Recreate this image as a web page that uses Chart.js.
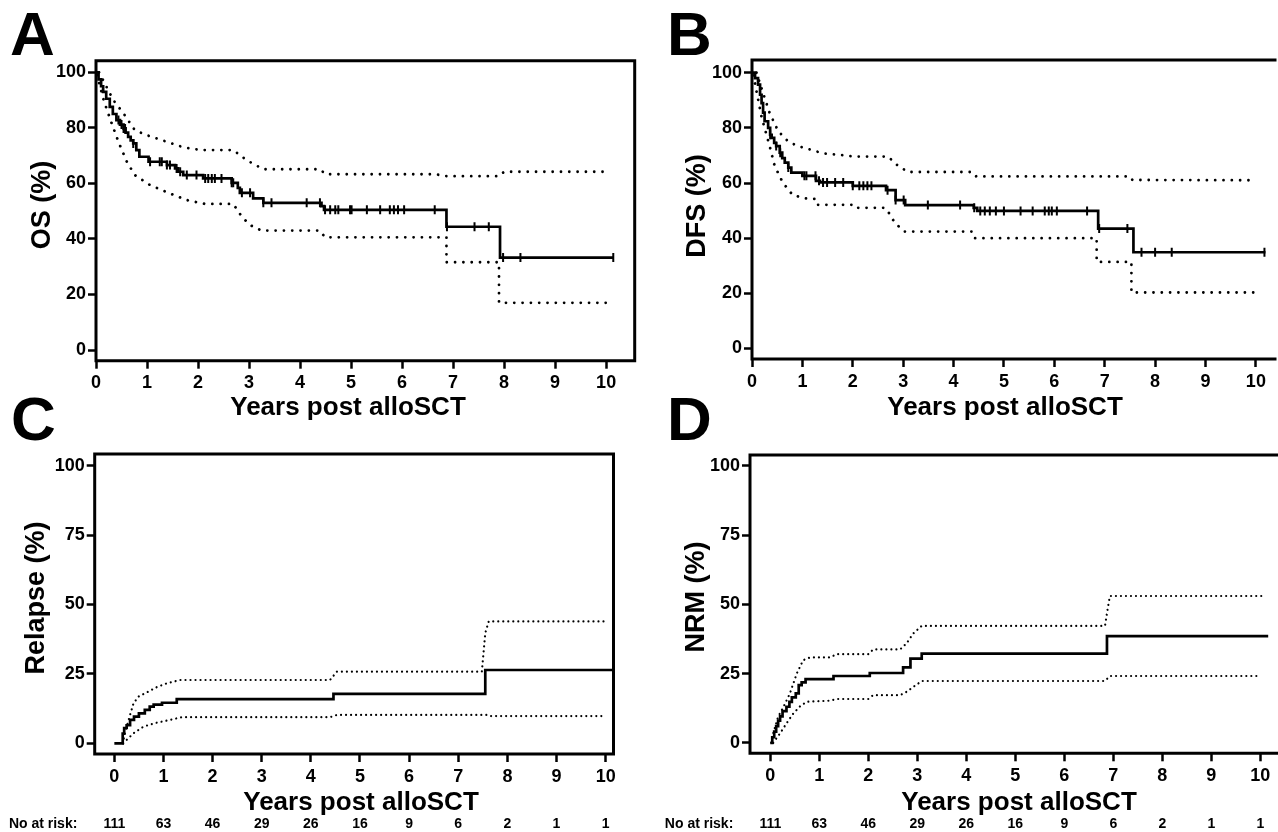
<!DOCTYPE html>
<html><head><meta charset="utf-8">
<script src="https://cdn.jsdelivr.net/npm/chart.js@4.4.0/dist/chart.umd.min.js"></script>
<style>
html,body{margin:0;padding:0;background:#fff;width:1278px;height:832px;overflow:hidden;}
canvas{position:absolute;left:0;top:0;}
</style></head><body>
<canvas id="cA" width="1278" height="832"></canvas>
<canvas id="cB" width="1278" height="832"></canvas>
<canvas id="cC" width="1278" height="832"></canvas>
<canvas id="cD" width="1278" height="832"></canvas>
<script>
// ---------- shared tick labels ----------
const xTickYears = [0,1,2,3,4,5,6,7,8,9,10];
const survivalTicks = [0,20,40,60,80,100];
const incidenceTicks = [0,25,50,75,100];
const atRiskCounts = [111,63,46,29,26,16,9,6,2,1,1];

// ---------- Panel A: OS ----------
const osTime  = [0,0.05,0.1,0.14,0.2,0.27,0.33,0.4,0.47,0.54,0.58,0.63,0.68,0.73,0.79,0.85,1.03,1.39,1.55,1.61,1.71,2.1,2.66,2.78,2.82,3.08,3.28,4.42,4.47,6.87,7.92,10.15];
const osValue = [100,97.5,95,93,90.5,87.6,85,82.8,81.2,79.8,78.3,76.8,75.5,74.4,72,69.6,67.8,66.6,65.4,64.2,63,61.8,60.2,58.4,56.6,54.6,53,51.8,50.5,44.4,33.3,33.3];
const osCensorTime = [0.44,0.5,0.54,0.57,0.73,1.06,1.25,1.29,1.39,1.45,1.58,1.65,1.78,1.97,2.14,2.2,2.27,2.33,2.46,2.66,2.69,2.86,3.02,3.28,3.44,4.13,4.39,4.49,4.59,4.69,4.75,4.98,5.01,5.31,5.57,5.76,5.84,5.92,6.04,6.64,6.88,7.42,7.7,7.98,8.32,10.14];
const osUpperTime  = [0.06,0.2,0.34,0.54,0.76,0.99,1.39,1.71,2.07,2.69,2.95,3.28,4.39,4.5,6.65,6.88,7.9,8.0,10.0];
const osUpperValue = [100,95,90,85.2,79.2,77.4,75,73,72,72,68.4,65.1,65.1,63.3,63.3,62.6,62.6,64.2,64.2];
const osLowerTime  = [0.02,0.15,0.3,0.45,0.6,0.76,1.06,1.45,1.78,2.14,2.69,2.86,3.02,3.25,4.39,4.49,6.87,6.87,7.9,7.9,10.0];
const osLowerValue = [99,90,82,74.5,68,63,59.4,56.4,54,52.6,52.6,48,45,43,43,40.6,40.6,31.6,31.6,17,17];

// ---------- Panel B: DFS ----------
const dfsTime  = [0,0.06,0.12,0.16,0.19,0.22,0.25,0.32,0.36,0.39,0.44,0.48,0.55,0.6,0.65,0.72,0.78,1.0,1.27,1.35,2.0,2.66,2.85,3.04,4.4,4.47,6.87,7.57,10.19];
const dfsValue = [100,98,95.7,92,89,85.5,82.4,80,77.5,76.4,74.5,73.4,71,69,67.4,65.6,63.8,62.6,60.8,60.2,59,57.4,53.8,52,51,49.9,43.5,34.9,34.9];
const dfsCensorTime = [0.36,0.48,0.56,0.72,1.04,1.08,1.26,1.33,1.41,1.49,1.65,1.81,2.0,2.13,2.21,2.29,2.37,2.69,2.85,3.01,3.49,4.13,4.41,4.53,4.62,4.72,4.84,5.0,5.33,5.57,5.81,5.89,5.95,6.05,6.65,6.89,7.45,7.73,8.0,8.33,10.17];
const dfsUpperTime  = [0.09,0.22,0.35,0.52,0.71,0.88,1.14,1.4,2.05,2.7,2.9,3.1,4.37,4.45,7.5,7.55,10.0];
const dfsUpperValue = [100,92.6,85.4,78.8,75.2,73.6,72.2,70.8,69.6,69.6,66.2,64,64,62.4,62.4,61.1,61.0];
const dfsLowerTime  = [0.02,0.06,0.19,0.35,0.45,0.61,0.81,1.07,1.27,1.3,2.05,2.1,2.64,2.7,2.84,3.03,4.37,4.42,6.84,6.84,7.53,7.53,10.0];
const dfsLowerValue = [99,96,83.9,73.4,66.2,60.2,55.6,54.4,54.2,52.1,52.1,51,51,49.7,45.4,42.4,42.4,40,40,31.4,31.4,20.3,20.3];

// ---------- Panel C: Relapse ----------
const relTime  = [0,0.17,0.2,0.25,0.32,0.4,0.5,0.62,0.72,0.8,0.97,1.27,4.46,7.55,10.14];
const relValue = [0,3.5,5.5,6.5,8.4,9.6,10.8,12,13.2,13.9,14.6,15.9,17.8,26.4,26.4];
const relUpperTime  = [0.17,0.22,0.29,0.39,0.49,0.69,0.86,1.07,1.34,4.39,4.53,7.48,7.55,7.62,10.0];
const relUpperValue = [0,4,8.4,14.4,16.8,18.6,20.2,21.6,22.8,22.8,25.8,25.8,39.7,43.9,43.9];
const relLowerTime  = [0.18,0.25,0.39,0.59,0.86,1.13,1.37,4.39,4.53,7.6,7.65,10.0];
const relLowerValue = [0,1.2,3.6,6,7.4,8.4,9.4,9.4,10.2,10.2,9.8,9.8];

// ---------- Panel D: NRM ----------
const nrmTime  = [0,0.04,0.08,0.12,0.16,0.2,0.25,0.33,0.39,0.44,0.52,0.58,0.64,0.72,1.29,2.03,2.71,2.86,3.09,6.87,10.16];
const nrmValue = [0,2,4,6,8,9.5,11.4,13,14.8,16.4,17.8,20.8,21.8,23,24.1,25.2,27.2,30.4,32.2,38.5,38.5];
const nrmUpperTime  = [0.02,0.06,0.16,0.27,0.4,0.54,0.67,0.81,1.22,1.35,2.0,2.1,2.65,2.78,2.92,3.09,6.83,6.88,6.93,10.05];
const nrmUpperValue = [0,3.4,9.4,13,17.8,25,29.8,30.8,30.8,32,32,33.7,33.7,35.9,39.5,42.2,42.2,47.9,53,53];
const nrmLowerTime  = [0.06,0.2,0.33,0.47,0.61,0.74,1.22,1.35,2.0,2.1,2.65,2.78,2.92,3.09,6.83,6.93,10.0];
const nrmLowerValue = [0,3.4,7,10.6,13.2,14.8,15.2,15.8,15.8,17.2,17.2,18.4,20.2,22.3,22.3,24.1,24.1];

// ---------- helpers ----------
const FONT = '"Liberation Sans", Arial, Helvetica, sans-serif';
function pts(ts, vs){ return ts.map((t,i)=>({x:t,y:vs[i]})); }
function stepAt(ts, vs, t){ let v = vs[0]; for (let i=0;i<ts.length;i++){ if (ts[i] <= t) v = vs[i]; } return v; }

const deco = {
  id: 'deco',
  afterDraw(chart, args, o) {
    const c = chart.ctx, a = chart.chartArea;
    c.save();
    c.strokeStyle = '#000'; c.lineWidth = 3; c.lineJoin = 'miter'; c.lineCap = 'butt';
    c.beginPath();
    if (o.openRight) {
      c.moveTo(a.right + 5, a.top); c.lineTo(a.left, a.top); c.lineTo(a.left, a.bottom); c.lineTo(a.right + 5, a.bottom);
    } else {
      c.rect(a.left, a.top, a.right - a.left, a.bottom - a.top);
    }
    c.stroke();
    c.fillStyle = '#000';
    c.textBaseline = 'alphabetic';
    c.font = 'bold 62px ' + FONT; c.textAlign = 'left';
    c.fillText(o.letter, o.letterX, o.letterY);
    c.font = 'bold 26px ' + FONT; c.textAlign = 'center';
    c.fillText(o.xTitle, o.xTitleX, o.xTitleY);
    c.save();
    c.translate(o.yTitleX, o.yTitleY); c.rotate(-Math.PI/2);
    c.font = 'bold 27px ' + FONT; c.textAlign = 'center';
    c.fillText(o.yTitle, 0, 0);
    c.restore();
    if (o.risk) {
      const xs = chart.scales.x;
      c.font = 'bold 14px ' + FONT;
      c.textAlign = 'right';
      c.fillText('No at risk:', xs.getPixelForValue(0) - 37, o.riskY);
      c.textAlign = 'center';
      o.risk.forEach((n,i) => c.fillText(String(n), xs.getPixelForValue(xTickYears[i]), o.riskY));
    }
    c.restore();
  }
};

function build(id, p) {
  const dotted = (ts, vs) => ({
    data: pts(ts, vs), borderColor:'#000', borderWidth:p.dotW, borderDash:[0.01, p.dotGap],
    borderCapStyle:'round', pointRadius:0, fill:false, tension:0
  });
  const datasets = [
    dotted(p.upT, p.upV),
    dotted(p.loT, p.loV),
    { data: pts(p.t, p.v), borderColor:'#000', borderWidth:2.7, stepped:true, pointRadius:0,
      fill:false, borderJoinStyle:'miter', borderCapStyle:'butt' }
  ];
  if (p.cT) {
    datasets.push({
      data: p.cT.map(t => ({x:t, y:stepAt(p.t, p.v, t)})), showLine:false,
      pointStyle:'line', pointRadius:4.5, pointRotation:90, pointBorderWidth:2,
      pointBorderColor:'#000', pointBackgroundColor:'#000'
    });
  }
  const tickFont = {family:FONT, size:18, weight:'bold'};
  const grid = {display:true, drawOnChartArea:false, drawTicks:true, tickLength:8, tickWidth:2.5, tickColor:'#000'};
  new Chart(document.getElementById(id), {
    type:'line',
    data:{datasets},
    plugins:[deco],
    options:{
      responsive:false, animation:false, devicePixelRatio:1, events:[],
      layout:{padding:p.pad},
      plugins:{legend:{display:false}, tooltip:{enabled:false}, deco:p.deco},
      scales:{
        x:{type:'linear', bounds:'data', min:p.xMin, max:p.xMax,
           afterBuildTicks:s => { s.ticks = xTickYears.map(v => ({value:v})); },
           afterFit:s => { s.height = 40; },
           grid, border:{display:false},
           ticks:{color:'#000', font:tickFont, padding:4, autoSkip:false, maxRotation:0, minRotation:0}},
        y:{type:'linear', bounds:'data', min:p.yMin, max:p.yMax,
           afterBuildTicks:s => { s.ticks = p.yTicks.map(v => ({value:v})); },
           afterFit:s => { s.width = 70; },
           grid, border:{display:false},
           ticks:{color:'#000', font:tickFont, padding:2}}
      }
    }
  });
}

build('cA', {
  t:osTime, v:osValue, cT:osCensorTime, upT:osUpperTime, upV:osUpperValue, loT:osLowerTime, loV:osLowerValue,
  dotW:2.8, dotGap:8.3, xMin:0, xMax:10.56, yMin:-3.85, yMax:104.2, yTicks:survivalTicks,
  pad:{left:26, top:60.7, right:643.3, bottom:431.3},
  deco:{letter:'A', letterX:10, letterY:55, xTitle:'Years post alloSCT', xTitleX:348, xTitleY:415,
        yTitle:'OS (%)', yTitleX:50, yTitleY:205, openRight:false}
});
build('cB', {
  t:dfsTime, v:dfsValue, cT:dfsCensorTime, upT:dfsUpperTime, upV:dfsUpperValue, loT:dfsLowerTime, loV:dfsLowerValue,
  dotW:2.8, dotGap:8.3, xMin:0, xMax:10.31, yMin:-3.8, yMax:104.6, yTicks:survivalTicks,
  pad:{left:682, top:60, right:0, bottom:433},
  deco:{letter:'B', letterX:667, letterY:55, xTitle:'Years post alloSCT', xTitleX:1005, xTitleY:415,
        yTitle:'DFS (%)', yTitleX:705, yTitleY:206, openRight:true}
});
build('cC', {
  t:relTime, v:relValue, upT:relUpperTime, upV:relUpperValue, loT:relLowerTime, loV:relLowerValue,
  dotW:2.2, dotGap:5, xMin:-0.4, xMax:10.16, yMin:-3.86, yMax:104.2, yTicks:incidenceTicks,
  pad:{left:24.7, top:454, right:664.5, bottom:38},
  deco:{letter:'C', letterX:11, letterY:440, xTitle:'Years post alloSCT', xTitleX:361, xTitleY:810,
        yTitle:'Relapse (%)', yTitleX:44, yTitleY:598, openRight:false, risk:atRiskCounts, riskY:828}
});
build('cD', {
  t:nrmTime, v:nrmValue, upT:nrmUpperTime, upV:nrmUpperValue, loT:nrmLowerTime, loV:nrmLowerValue,
  dotW:2.2, dotGap:5, xMin:-0.414, xMax:10.36, yMin:-3.8, yMax:103.9, yTicks:incidenceTicks,
  pad:{left:680, top:455, right:0, bottom:38.7},
  deco:{letter:'D', letterX:667, letterY:440, xTitle:'Years post alloSCT', xTitleX:1019, xTitleY:810,
        yTitle:'NRM (%)', yTitleX:704, yTitleY:597, openRight:true, risk:atRiskCounts, riskY:828}
});
</script>
</body></html>
